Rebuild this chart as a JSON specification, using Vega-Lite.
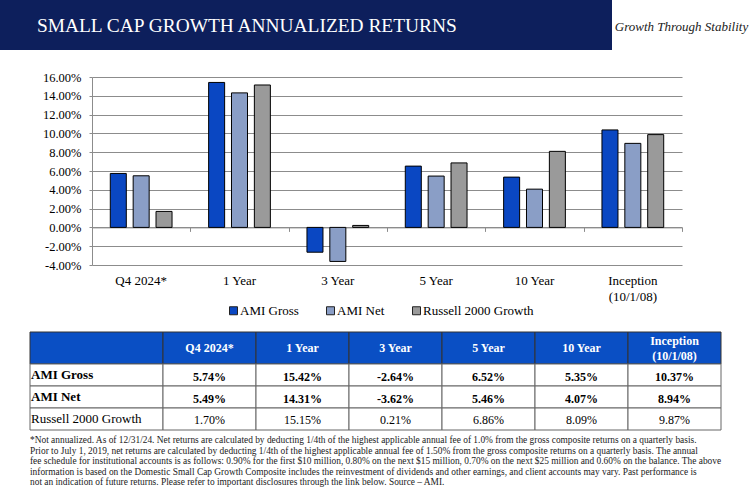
{
  "$schema": "https://vega.github.io/schema/vega-lite/v6.json",
  "padding": 0,
  "background": "white",
  "spacing": 0,
  "bounds": "flush",
  "config": {
    "font": "Liberation Serif",
    "view": {"stroke": null},
    "axis": {"labelFont": "Liberation Serif", "labelColor": "black"},
    "legend": {"labelFont": "Liberation Serif", "labelColor": "black"},
    "locale": {"number": {"decimal": ".", "thousands": ",", "grouping": [3], "currency": ["$", ""], "minus": "-"}}
  },
  "datasets": {
    "returns": [
      {"period": "Q4 2024*", "series": "AMI Gross", "value": 0.0574},
      {"period": "Q4 2024*", "series": "AMI Net", "value": 0.0549},
      {"period": "Q4 2024*", "series": "Russell 2000 Growth", "value": 0.0170},
      {"period": "1 Year", "series": "AMI Gross", "value": 0.1542},
      {"period": "1 Year", "series": "AMI Net", "value": 0.1431},
      {"period": "1 Year", "series": "Russell 2000 Growth", "value": 0.1515},
      {"period": "3 Year", "series": "AMI Gross", "value": -0.0264},
      {"period": "3 Year", "series": "AMI Net", "value": -0.0362},
      {"period": "3 Year", "series": "Russell 2000 Growth", "value": 0.0021},
      {"period": "5 Year", "series": "AMI Gross", "value": 0.0652},
      {"period": "5 Year", "series": "AMI Net", "value": 0.0546},
      {"period": "5 Year", "series": "Russell 2000 Growth", "value": 0.0686},
      {"period": "10 Year", "series": "AMI Gross", "value": 0.0535},
      {"period": "10 Year", "series": "AMI Net", "value": 0.0407},
      {"period": "10 Year", "series": "Russell 2000 Growth", "value": 0.0809},
      {"period": "Inception (10/1/08)", "series": "AMI Gross", "value": 0.1037},
      {"period": "Inception (10/1/08)", "series": "AMI Net", "value": 0.0894},
      {"period": "Inception (10/1/08)", "series": "Russell 2000 Growth", "value": 0.0987}
    ]
  },
  "vconcat": [
    {
      "width": 752, "height": 50,
      "title": {"text": "SMALL CAP GROWTH ANNUALIZED RETURNS", "orient": "bottom", "anchor": "start", "frame": "group", "offset": -33, "dx": 37, "color": "white", "font": "Liberation Serif", "fontSize": 19.4, "fontWeight": "normal"},
      "layer": [
        {
          "data": {"values": [{"block": "banner"}]},
          "mark": {"type": "rect", "color": "#0d1f5c"},
          "encoding": {
            "x": {"field": "block", "type": "nominal", "axis": null, "scale": {"range": [0, 612], "paddingInner": 0, "paddingOuter": 0}},
            "y": {"field": "block", "type": "nominal", "axis": null, "scale": {"paddingInner": 0, "paddingOuter": 0}}
          }
        },
        {
          "data": {"values": [{"block": "Growth Through Stability"}]},
          "mark": {"type": "text", "font": "Liberation Serif", "fontStyle": "italic", "fontSize": 13, "color": "#222", "dy": 2},
          "encoding": {
            "x": {"field": "block", "type": "nominal", "axis": null, "scale": {"range": [612, 751], "paddingInner": 0, "paddingOuter": 0}},
            "text": {"field": "block"}
          }
        }
      ],
      "resolve": {"scale": {"x": "independent", "y": "independent"}}
    },
    {"width": 752, "height": 27, "data": {"values": []}, "mark": "point"},
    {
      "width": 752, "height": 188,
      "data": {"name": "returns"},
      "layer": [
        {
          "mark": {"type": "bar", "stroke": "black", "strokeWidth": 1},
          "encoding": {
            "x": {
              "field": "period", "type": "nominal",
              "sort": ["Q4 2024*", "1 Year", "3 Year", "5 Year", "10 Year", "Inception (10/1/08)"],
              "scale": {"range": [92, 682], "paddingInner": 0, "paddingOuter": 0},
              "axis": {"orient": "bottom", "offset": -37.6, "labels": false, "title": null, "grid": false, "domain": true, "domainColor": "#8c8c8c", "ticks": true, "tickBand": "extent", "tickSize": 4, "tickColor": "#8c8c8c"}
            },
            "xOffset": {
              "field": "series", "type": "nominal",
              "sort": ["AMI Gross", "AMI Net", "Russell 2000 Growth"],
              "scale": {"paddingInner": 0.3, "paddingOuter": 0.8}
            },
            "y": {
              "field": "value", "type": "quantitative",
              "scale": {"domain": [-0.04, 0.16], "nice": false},
              "axis": {"orient": "left", "offset": -92, "title": null, "values": [-0.04, -0.02, 0, 0.02, 0.04, 0.06, 0.08, 0.1, 0.12, 0.14, 0.16], "format": ".2%", "grid": true, "gridColor": "#8c8c8c", "domainColor": "#8c8c8c", "tickColor": "#8c8c8c", "tickSize": 3, "labelPadding": 8, "labelFontSize": 12.5}
            },
            "color": {
              "field": "series", "type": "nominal",
              "sort": ["AMI Gross", "AMI Net", "Russell 2000 Growth"],
              "scale": {"range": ["#0a47c2", "#8a9ec6", "#9a9a9a"]},
              "legend": {"title": null, "orient": "none", "legendX": 227, "legendY": 304, "direction": "horizontal", "symbolType": "square", "symbolSize": 64, "symbolStrokeColor": "#222", "symbolStrokeWidth": 1, "labelFontSize": 13, "labelOffset": 0, "columnPadding": 25}
            }
          }
        },
        {
          "mark": {"type": "point", "opacity": 0},
          "encoding": {
            "x": {
              "field": "period", "type": "nominal",
              "sort": ["Q4 2024*", "1 Year", "3 Year", "5 Year", "10 Year", "Inception (10/1/08)"],
              "axis": {"orient": "bottom", "title": null, "domain": false, "ticks": false, "grid": false, "labelPadding": 9, "labelFontSize": 13, "labelAngle": 0, "labelLineHeight": 16, "labelExpr": "datum.value == 'Inception (10/1/08)' ? ['Inception', '(10/1/08)'] : datum.label"}
            }
          }
        }
      ],
      "resolve": {"axis": {"x": "independent"}}
    },
    {"width": 752, "height": 67, "data": {"values": []}, "mark": "point"},
    {
      "width": 752, "height": 98,
      "data": {"name": "returns"},
      "layer": [
        {
          "transform": [{"filter": "datum.period == 'Q4 2024*' && datum.series == 'AMI Gross'"}],
          "mark": {"type": "rect", "fill": "#0a4fc4", "stroke": "#333", "strokeWidth": 1},
          "encoding": {
            "x": {"field": "series", "type": "nominal", "axis": null, "scale": {"domain": ["AMI Gross"], "range": [30, 163], "paddingInner": 0, "paddingOuter": 0}},
            "y": {"field": "series", "type": "nominal", "axis": null, "scale": {"domain": ["AMI Gross"], "range": [0, 32], "paddingInner": 0, "paddingOuter": 0}}
          }
        },
        {
          "transform": [{"filter": "datum.series == 'AMI Gross'"}],
          "mark": {"type": "rect", "fill": "#0a4fc4", "stroke": "#333", "strokeWidth": 1},
          "encoding": {
            "x": {"field": "period", "type": "nominal", "axis": null, "scale": {"domain": ["Q4 2024*", "1 Year", "3 Year", "5 Year", "10 Year", "Inception (10/1/08)"], "range": [163, 721], "paddingInner": 0, "paddingOuter": 0}},
            "y": {"field": "series", "type": "nominal", "axis": null, "scale": {"domain": ["AMI Gross"], "range": [0, 32], "paddingInner": 0, "paddingOuter": 0}}
          }
        },
        {
          "transform": [{"filter": "datum.series == 'AMI Gross' && datum.period != 'Inception (10/1/08)'"}],
          "mark": {"type": "text", "color": "white", "fontWeight": "bold", "fontSize": 12},
          "encoding": {
            "x": {"field": "period", "type": "nominal", "axis": null, "scale": {"domain": ["Q4 2024*", "1 Year", "3 Year", "5 Year", "10 Year", "Inception (10/1/08)"], "range": [163, 721], "paddingInner": 0, "paddingOuter": 0}},
            "y": {"field": "series", "type": "nominal", "axis": null, "scale": {"domain": ["AMI Gross"], "range": [0, 32], "paddingInner": 0, "paddingOuter": 0}},
            "text": {"field": "period"}
          }
        },
        {
          "transform": [{"filter": "datum.series == 'AMI Gross' && datum.period == 'Inception (10/1/08)'"}],
          "mark": {"type": "text", "color": "white", "fontWeight": "bold", "fontSize": 12, "lineHeight": 15, "dy": -7},
          "encoding": {
            "x": {"field": "period", "type": "nominal", "axis": null, "scale": {"domain": ["Q4 2024*", "1 Year", "3 Year", "5 Year", "10 Year", "Inception (10/1/08)"], "range": [163, 721], "paddingInner": 0, "paddingOuter": 0}},
            "y": {"field": "series", "type": "nominal", "axis": null, "scale": {"domain": ["AMI Gross"], "range": [0, 32], "paddingInner": 0, "paddingOuter": 0}},
            "text": {"value": ["Inception", "(10/1/08)"]}
          }
        },
        {
          "transform": [{"filter": "datum.period == 'Q4 2024*'"}],
          "mark": {"type": "rect", "fill": "white", "stroke": "#666", "strokeWidth": 1},
          "encoding": {
            "x": {"field": "period", "type": "nominal", "axis": null, "scale": {"domain": ["Q4 2024*"], "range": [30, 163], "paddingInner": 0, "paddingOuter": 0}},
            "y": {"field": "series", "type": "nominal", "axis": null, "scale": {"domain": ["AMI Gross", "AMI Net", "Russell 2000 Growth"], "range": [32, 98], "paddingInner": 0, "paddingOuter": 0}}
          }
        },
        {
          "mark": {"type": "rect", "fill": "white", "stroke": "#666", "strokeWidth": 1},
          "encoding": {
            "x": {"field": "period", "type": "nominal", "axis": null, "scale": {"domain": ["Q4 2024*", "1 Year", "3 Year", "5 Year", "10 Year", "Inception (10/1/08)"], "range": [163, 721], "paddingInner": 0, "paddingOuter": 0}},
            "y": {"field": "series", "type": "nominal", "axis": null, "scale": {"domain": ["AMI Gross", "AMI Net", "Russell 2000 Growth"], "range": [32, 98], "paddingInner": 0, "paddingOuter": 0}}
          }
        },
        {
          "transform": [{"filter": "datum.period == 'Q4 2024*' && datum.series != 'Russell 2000 Growth'"}],
          "mark": {"type": "text", "align": "left", "fontWeight": "bold", "fontSize": 13, "color": "black"},
          "encoding": {
            "x": {"field": "period", "type": "nominal", "axis": null, "scale": {"type": "point", "domain": ["Q4 2024*"], "range": [31, 163], "padding": 0, "align": 0}},
            "y": {"field": "series", "type": "nominal", "axis": null, "scale": {"domain": ["AMI Gross", "AMI Net", "Russell 2000 Growth"], "range": [32, 98], "paddingInner": 0, "paddingOuter": 0}},
            "text": {"field": "series"}
          }
        },
        {
          "transform": [{"filter": "datum.period == 'Q4 2024*' && datum.series == 'Russell 2000 Growth'"}],
          "mark": {"type": "text", "align": "left", "fontSize": 13, "color": "black"},
          "encoding": {
            "x": {"field": "period", "type": "nominal", "axis": null, "scale": {"type": "point", "domain": ["Q4 2024*"], "range": [31, 163], "padding": 0, "align": 0}},
            "y": {"field": "series", "type": "nominal", "axis": null, "scale": {"domain": ["AMI Gross", "AMI Net", "Russell 2000 Growth"], "range": [32, 98], "paddingInner": 0, "paddingOuter": 0}},
            "text": {"field": "series"}
          }
        },
        {
          "transform": [{"filter": "datum.series != 'Russell 2000 Growth'"}],
          "mark": {"type": "text", "fontWeight": "bold", "fontSize": 12, "dy": 2, "color": "black"},
          "encoding": {
            "x": {"field": "period", "type": "nominal", "axis": null, "scale": {"domain": ["Q4 2024*", "1 Year", "3 Year", "5 Year", "10 Year", "Inception (10/1/08)"], "range": [163, 721], "paddingInner": 0, "paddingOuter": 0}},
            "y": {"field": "series", "type": "nominal", "axis": null, "scale": {"domain": ["AMI Gross", "AMI Net", "Russell 2000 Growth"], "range": [32, 98], "paddingInner": 0, "paddingOuter": 0}},
            "text": {"field": "value", "type": "quantitative", "format": ".2%"}
          }
        },
        {
          "transform": [{"filter": "datum.series == 'Russell 2000 Growth'"}],
          "mark": {"type": "text", "fontSize": 12, "dy": 1, "color": "black"},
          "encoding": {
            "x": {"field": "period", "type": "nominal", "axis": null, "scale": {"domain": ["Q4 2024*", "1 Year", "3 Year", "5 Year", "10 Year", "Inception (10/1/08)"], "range": [163, 721], "paddingInner": 0, "paddingOuter": 0}},
            "y": {"field": "series", "type": "nominal", "axis": null, "scale": {"domain": ["AMI Gross", "AMI Net", "Russell 2000 Growth"], "range": [32, 98], "paddingInner": 0, "paddingOuter": 0}},
            "text": {"field": "value", "type": "quantitative", "format": ".2%"}
          }
        }
      ],
      "resolve": {"scale": {"x": "independent", "y": "independent"}}
    },
    {
      "width": 752, "height": 66,
      "title": {
        "text": [
          "*Not annualized.  As of 12/31/24.  Net returns are calculated by deducting 1/4th of the highest applicable annual fee of 1.0% from the gross composite returns on a quarterly basis.",
          "Prior to July 1, 2019, net returns are calculated by deducting 1/4th of the highest applicable annual fee of 1.50% from the gross composite returns on a quarterly basis. The annual",
          "fee schedule for institutional accounts is as follows: 0.90% for the first $10 million, 0.80% on the next $15 million, 0.70% on the next $25 million and 0.60% on the balance.  The above",
          "information is based on the Domestic Small Cap Growth Composite includes the reinvestment of dividends and other earnings, and client accounts may vary. Past performance is",
          "not an indication of future returns. Please refer to important disclosures through the link below. Source – AMI."
        ],
        "orient": "bottom", "anchor": "start", "frame": "group", "offset": -60, "dx": 30,
        "font": "Liberation Serif", "fontSize": 9.4, "lineHeight": 10.6, "fontWeight": "normal", "color": "#222"
      },
      "data": {"values": []},
      "mark": "point"
    }
  ]
}
